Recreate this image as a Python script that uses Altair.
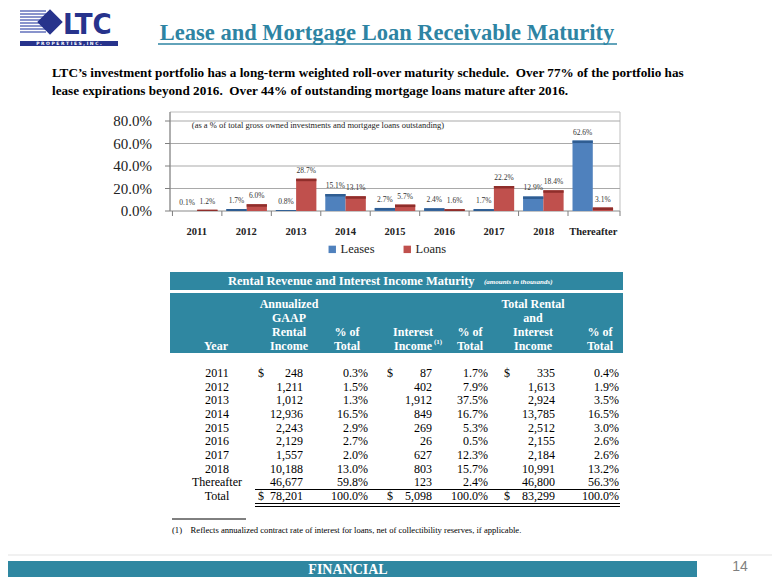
import altair as alt
import pandas as pd

# ---------------- data ----------------
years = ["2011", "2012", "2013", "2014", "2015", "2016", "2017", "2018", "Thereafter"]
leases = [0.1, 1.7, 0.8, 15.1, 2.7, 2.4, 1.7, 12.9, 62.6]
loans = [1.2, 6.0, 28.7, 13.1, 5.7, 1.6, 22.2, 18.4, 3.1]
series = ["Leases", "Loans"]
grid_ticks = [0, 20, 40, 60, 80]

table_years = ["2011", "2012", "2013", "2014", "2015", "2016", "2017", "2018", "Thereafter", "Total"]
rental = [248, 1211, 1012, 12936, 2243, 2129, 1557, 10188, 46677, 78201]
rental_pct = [0.3, 1.5, 1.3, 16.5, 2.9, 2.7, 2.0, 13.0, 59.8, 100.0]
interest = [87, 402, 1912, 849, 269, 26, 627, 803, 123, 5098]
interest_pct = [1.7, 7.9, 37.5, 16.7, 5.3, 0.5, 12.3, 15.7, 2.4, 100.0]
total = [335, 1613, 2924, 13785, 2512, 2155, 2184, 10991, 46800, 83299]
total_pct = [0.4, 1.9, 3.5, 16.5, 3.0, 2.6, 2.6, 13.2, 56.3, 100.0]

NB = "\u00a0"
title = "Lease and Mortgage Loan Receivable Maturity"
subtitle1 = ("LTC\u2019s investment portfolio has a long-term weighted roll-over maturity schedule." + NB +
             " Over 77% of the portfolio has")
subtitle2 = "lease expirations beyond 2016." + NB + " Over 44% of outstanding mortgage loans mature after 2016."
note = "(as a % of total gross owned investments and mortgage loans outstanding)"
table_title = "Rental Revenue and Interest Income Maturity"
table_sub = "(amounts in thousands)"
footnote = "(1)" + NB + NB + NB + " Reflects annualized contract rate of interest for loans, net of collectibility reserves, if applicable."

# ---------------- style ----------------
OX, OY = 8, 8
def X(v): return v - OX
def Y(v): return v - OY

W, H = 764, 569
TEAL = "#2F87A1"
TITLE_C = "#2E84A3"
NAVY = "#27338C"
BLUE = "#4F81BD"
RED = "#C0504D"
BLUE_D = "#2F5D92"
RED_D = "#8F2E2B"
SERIF = "Liberation Serif"

one = pd.DataFrame({"k": [0]})
layers = []

def text_at(txt, x, y, size, **kw):
    font = kw.pop("font", SERIF)
    return alt.Chart(one).mark_text(text=txt, fontSize=size, font=font, **kw).encode(
        x=alt.value(X(x)), y=alt.value(Y(y)))

def rect_at(x1, x2, y1, y2, **kw):
    return alt.Chart(one).mark_rect(**kw).encode(
        x=alt.value(X(x1)), x2=alt.value(X(x2)), y=alt.value(Y(y1)), y2=alt.value(Y(y2)))

def hline(x1, x2, y, **kw):
    return alt.Chart(one).mark_rule(**kw).encode(
        x=alt.value(X(x1)), x2=alt.value(X(x2)), y=alt.value(Y(y)))

def vline(x, y1, y2, **kw):
    return alt.Chart(one).mark_rule(**kw).encode(
        x=alt.value(X(x)), y=alt.value(Y(y1)), y2=alt.value(Y(y2)))

# ---------------- logo ----------------
for i in range(8):
    layers.append(hline(20, 46, 11 + 3 * i, color="#4A5AB0", strokeWidth=1.3))
layers.append(alt.Chart(one).mark_point(shape="diamond", filled=True, size=650, color=NAVY, opacity=1).encode(
    x=alt.value(X(50)), y=alt.value(Y(22))))
layers.append(text_at("LTC", 63, 34, 29, font="Liberation Sans Narrow, DejaVu Sans Condensed, sans-serif",
                      fontWeight="bold", color=NAVY, align="left", baseline="alphabetic"))
layers.append(rect_at(20, 118, 41, 46, color=NAVY))
layers.append(text_at("P R O P E R T I E S ,   I N C .", 69, 43.7, 4.5, font="DejaVu Sans",
                      fontWeight="bold", color="white", align="center", baseline="middle"))

# ---------------- title ----------------
layers.append(text_at(title, 387, 40, 22.5, fontWeight="bold", color=TITLE_C, align="center", baseline="alphabetic"))
layers.append(hline(158, 617, 44, color=TITLE_C, strokeWidth=1.5))
layers.append(text_at(subtitle1, 52, 77, 13.2, fontWeight="bold", color="black", align="left", baseline="alphabetic"))
layers.append(text_at(subtitle2, 52, 95, 13.2, fontWeight="bold", color="black", align="left", baseline="alphabetic"))

# ---------------- bar chart ----------------
bar_df = pd.DataFrame({
    "year": years * 2,
    "series": [series[0]] * len(years) + [series[1]] * len(years),
    "pct": leases + loans,
})
grid_df = pd.DataFrame({"tick": grid_ticks})
year_df = pd.DataFrame({"year": years})

xscale = alt.Scale(domain=years, range=[X(172), X(618)], paddingInner=0.18, paddingOuter=0.1)
yscale = alt.Scale(domain=[0, 80], range=[Y(211), Y(121)], nice=False, zero=True)
offscale = alt.Scale(domain=series, paddingInner=0, paddingOuter=0)
offscale_pt = alt.Scale(type="point", domain=series, padding=0.5)

# plot box
layers.append(rect_at(170, 620, 112, 211, fill="white", stroke="#BFBFBF", strokeWidth=1))
# gridlines
layers.append(alt.Chart(grid_df).mark_rule(color="#A9A9A9", strokeWidth=1).encode(
    y=alt.Y("tick:Q", scale=yscale, axis=None), x=alt.value(X(170)), x2=alt.value(X(620))))
# y tick marks
layers.append(alt.Chart(grid_df).mark_rule(color="#7F7F7F", strokeWidth=1).encode(
    y=alt.Y("tick:Q", scale=yscale, axis=None), x=alt.value(X(165)), x2=alt.value(X(170))))
# y axis line
layers.append(vline(170, 112, 211, color="#7F7F7F"))
# x tick marks between categories
layers.append(alt.Chart(year_df).mark_rule(color="#7F7F7F", xOffset=-4.5).encode(
    x=alt.X("year:N", scale=xscale, axis=None, sort=years, bandPosition=0),
    y=alt.value(Y(211)), y2=alt.value(Y(216))))
layers.append(vline(620, 211, 216, color="#7F7F7F"))
# y tick labels
layers.append(alt.Chart(grid_df).transform_calculate(
    lab="format(datum.tick, '.1f') + '%'"
).mark_text(font=SERIF, fontSize=15, align="right", baseline="middle", color="#222").encode(
    y=alt.Y("tick:Q", scale=yscale, axis=None), x=alt.value(X(152)), text="lab:N"))

# bars
layers.append(alt.Chart(bar_df).mark_bar().encode(
    x=alt.X("year:N", scale=xscale, axis=None, sort=years),
    xOffset=alt.XOffset("series:N", scale=offscale),
    y=alt.Y("pct:Q", scale=yscale, axis=None),
    color=alt.Color("series:N", scale=alt.Scale(domain=series, range=[BLUE, RED]),
                    legend=alt.Legend(orient="none", legendX=X(326), legendY=Y(243), direction="horizontal",
                                      title=None, symbolType="square", symbolSize=55, symbolStrokeWidth=0,
                                      labelFont=SERIF, labelFontSize=12.5, labelColor="#222",
                                      columnPadding=26, labelOffset=2, padding=0)),
))
# darker top strip (3D look)
layers.append(alt.Chart(bar_df).transform_calculate(
    lo="max(datum.pct - 2.2, 0)"
).mark_bar().encode(
    x=alt.X("year:N", scale=xscale, axis=None, sort=years),
    xOffset=alt.XOffset("series:N", scale=offscale),
    y=alt.Y("pct:Q", scale=yscale, axis=None),
    y2="lo:Q",
    color=alt.Color("series:N", scale=alt.Scale(domain=series, range=[BLUE_D, RED_D]), legend=None),
))
# value labels
layers.append(alt.Chart(bar_df).transform_calculate(
    lab="format(datum.pct, '.1f') + '%'"
).mark_text(font=SERIF, fontSize=7.5, dy=-8, baseline="middle", color="#333").encode(
    x=alt.X("year:N", scale=xscale, axis=None, sort=years, bandPosition=0),
    xOffset=alt.XOffset("series:N", scale=offscale_pt),
    y=alt.Y("pct:Q", scale=yscale, axis=None),
    text="lab:N"))
# category labels
layers.append(alt.Chart(year_df).mark_text(font=SERIF, fontSize=10.5, fontWeight="bold", color="#222",
                                           baseline="middle").encode(
    x=alt.X("year:N", scale=xscale, axis=None, sort=years), y=alt.value(Y(232)), text="year:N"))
# note
layers.append(text_at(note, 318, 125, 8.5, color="#222", align="center", baseline="middle"))

# ---------------- table ----------------
layers.append(rect_at(170, 623, 272, 290, color=TEAL))
layers.append(rect_at(170, 623, 293, 353, color=TEAL))
layers.append(text_at(table_title, 228, 281, 12.5, fontWeight="bold", color="white", align="left", baseline="middle"))
layers.append(text_at(table_sub, 484, 282, 7, fontWeight="bold", fontStyle="italic", color="white",
                      align="left", baseline="middle"))

headers = [
    (["Year"], 216),
    (["Annualized", "GAAP", "Rental", "Income"], 289),
    (["% of", "Total"], 347),
    (["Interest", "Income"], 413),
    (["% of", "Total"], 470),
    (["Total Rental", "and", "Interest", "Income"], 533),
    (["% of", "Total"], 600),
]
LH = 14.1
for lines, cx in headers:
    n = len(lines)
    for i, ln in enumerate(lines):
        yc = 346 - (n - 1 - i) * LH
        layers.append(text_at(ln, cx, yc, 12, fontWeight="bold", color="white", align="center",
                              baseline="middle"))
layers.append(text_at("(1)", 434, 342, 7, fontWeight="bold", color="white", align="left", baseline="middle"))

tab_df = pd.DataFrame({
    "row": table_years, "rental": rental, "rental_pct": rental_pct,
    "interest": interest, "interest_pct": interest_pct,
    "total": total, "total_pct": total_pct,
})
rowscale = alt.Scale(type="point", domain=table_years, range=[Y(373), Y(496)], padding=0)
tbase = alt.Chart(tab_df)
ycol = alt.Y("row:N", scale=rowscale, axis=None)

layers.append(tbase.mark_text(font=SERIF, fontSize=12, align="center", baseline="middle", color="black").encode(
    y=ycol, x=alt.value(X(217)), text="row:N"))
num_cols = [("rental", 303), ("interest", 432), ("total", 555)]
for col, xr in num_cols:
    layers.append(tbase.mark_text(font=SERIF, fontSize=12, align="right", baseline="middle", color="black").encode(
        y=ycol, x=alt.value(X(xr)), text=alt.Text(f"{col}:Q", format=",")))
pct_cols = [("rental_pct", 368), ("interest_pct", 488), ("total_pct", 619)]
for col, xr in pct_cols:
    layers.append(tbase.transform_calculate(lab=f"format(datum.{col}, '.1f') + '%'").mark_text(
        font=SERIF, fontSize=12, align="right", baseline="middle", color="black").encode(
        y=ycol, x=alt.value(X(xr)), text="lab:N"))
for xd in [261, 390, 507]:
    layers.append(tbase.transform_filter("datum.row == '2011' || datum.row == 'Total'").mark_text(
        font=SERIF, fontSize=12, align="center", baseline="middle", color="black").encode(
        y=ycol, x=alt.value(X(xd)), text=alt.value("$")))

layers.append(hline(255, 620, 489.5, color="black", strokeWidth=1))
layers.append(hline(255, 620, 503.5, color="black", strokeWidth=1))
layers.append(hline(255, 620, 506.5, color="black", strokeWidth=1))

# footnote
layers.append(hline(172, 246, 519, color="black", strokeWidth=1))
layers.append(text_at(footnote, 172, 530, 8.6, color="black", align="left", baseline="middle"))

# ---------------- footer ----------------
layers.append(hline(8, 780, 555, color="#E3E3E3", strokeWidth=1))
layers.append(rect_at(8, 697, 561, 585, color=TEAL))
layers.append(text_at("FINANCIAL", 348, 570, 14, fontWeight="bold", color="white", align="center", baseline="middle"))
layers.append(text_at("14", 740, 567, 14, font="Liberation Sans", color="#7F7F7F", align="center", baseline="middle"))

chart = alt.layer(*layers).resolve_scale(
    x="independent", y="independent", color="independent", xOffset="independent"
).properties(
    width=W, height=H, padding=0, autosize=alt.AutoSizeParams(type="none"), background="white"
).configure_view(stroke=None)

chart.save("out.html", embed_options={"renderer": "svg", "actions": False})
